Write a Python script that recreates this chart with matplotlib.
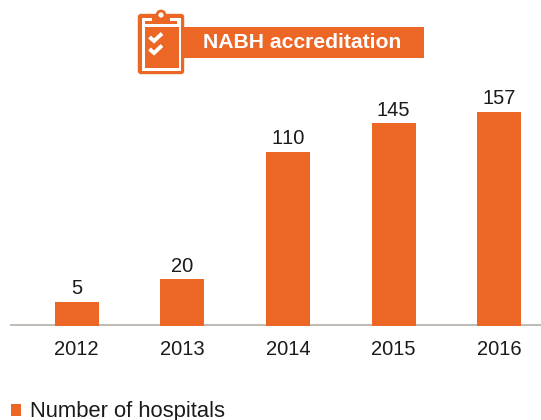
"""NABH accredited hospitals per year, bar chart with clipboard banner."""
import matplotlib
matplotlib.use("Agg")
import matplotlib.pyplot as plt
from matplotlib.patches import FancyBboxPatch, Rectangle, Circle

W, H = 541, 420
ORANGE = "#EC6625"
TEXT = "#1a1a1a"

years = ["2012", "2013", "2014", "2015", "2016"]
hospitals = [5, 20, 110, 145, 157]
drawn_heights = [24, 47, 174, 203, 214]
title = "NABH accreditation"
legend_label = "Number of hospitals"

plt.rcParams["font.family"] = ["Liberation Sans", "DejaVu Sans"]
plt.rcParams["text.kerning_factor"] = 10  # liberation squeezes the "11" pair otherwise


def px_axes(fig, left, top, right, bottom):
    return fig.add_axes([left / W, 1 - bottom / H, (right - left) / W, (bottom - top) / H])


def draw_banner(ax):
    ax.add_patch(Rectangle((183, 27), 241, 31, color=ORANGE, lw=0))
    ax.text(302, 42.5, title, color="white", fontsize=15.2, fontweight="bold",
            ha="center", va="center")
    # clipboard: orange board, white band, orange sheet
    ax.add_patch(FancyBboxPatch((138.5, 14.5), 45, 59, boxstyle="round,pad=0,rounding_size=2.5",
                                fc=ORANGE, ec=ORANGE, lw=1))
    ax.add_patch(Rectangle((141.5, 17.5), 39, 53, color="white", lw=0))
    ax.add_patch(Rectangle((145, 27), 34, 41, color=ORANGE, lw=0))
    # clip
    ax.add_patch(Rectangle((152, 15), 18, 8, color=ORANGE, lw=0))
    ax.add_patch(Rectangle((145, 21), 32, 2.5, color=ORANGE, lw=0))
    ax.add_patch(Circle((161, 15), 4, fc="white", ec=ORANGE, lw=2))
    for y0 in (37, 49):
        ax.plot([149.5, 154, 162], [y0, y0 + 4, y0 - 3.5], color="white", lw=2.8,
                solid_capstyle="butt", solid_joinstyle="miter")


def main():
    fig = plt.figure(figsize=(W / 100, H / 100), dpi=100)

    ax = px_axes(fig, 11, 60, 541, 326)
    x = range(len(years))
    ax.bar(x, drawn_heights, width=44 / 105.6, color=ORANGE, zorder=3)
    ax.set_xlim(-(76.7 - 11) / 105.6, 4 + (541 - 499.1) / 105.6)
    ax.set_ylim(0, 266)
    for i, v in enumerate(hospitals):
        ax.text(i, drawn_heights[i] + 3.5, str(v), ha="center", va="bottom",
                fontsize=14.5, color=TEXT)
    ax.set_xticks(list(x), years)
    ax.set_yticks([])
    for side in ("top", "left", "right"):
        ax.spines[side].set_visible(False)
    ax.spines["bottom"].set_color("#b5aea8")
    ax.spines["bottom"].set_linewidth(1.2)
    ax.spines["bottom"].set_position(("data", 1))
    ax.tick_params(axis="x", length=0, pad=11, labelsize=14.5, labelcolor=TEXT)
    ax.patch.set_alpha(0)

    over = px_axes(fig, 0, 0, W, H)
    over.set_xlim(0, W)
    over.set_ylim(H, 0)
    over.axis("off")
    draw_banner(over)
    over.add_patch(Rectangle((11, 404), 10, 12, color=ORANGE, lw=0))
    over.text(30, 411, legend_label, fontsize=15.8, color=TEXT, ha="left", va="center")

    fig.savefig("out.png", dpi=100)
    plt.close(fig)


if __name__ == "__main__":
    main()
